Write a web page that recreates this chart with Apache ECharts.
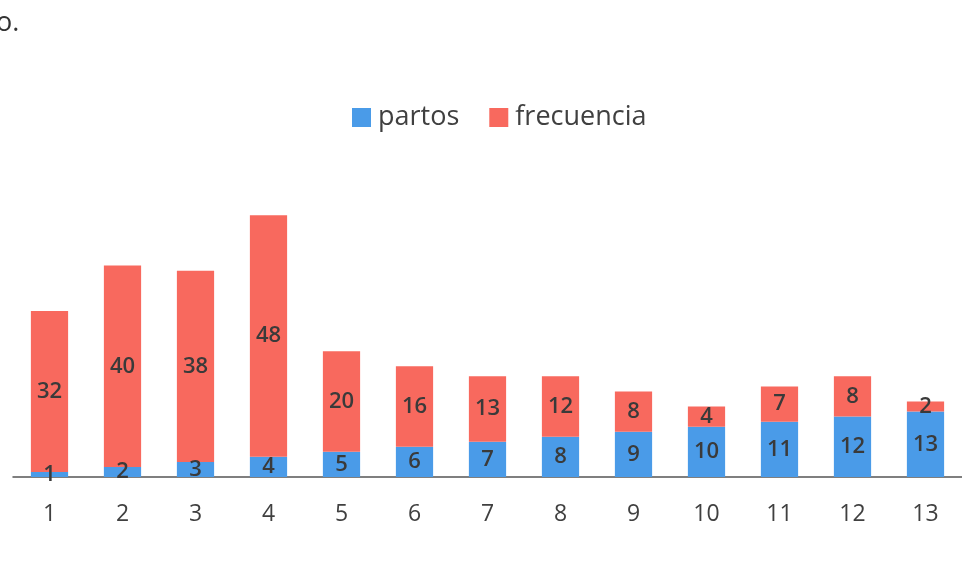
<!DOCTYPE html>
<html>
<head>
<meta charset="utf-8">
<script src="https://cdn.jsdelivr.net/npm/echarts@6/dist/echarts.min.js"></script>
<style>
html,body{margin:0;padding:0;background:#fff;}
#c{width:962px;height:579px;}
</style>
</head>
<body>
<div id="c"></div>
<script>
var categories = ['1','2','3','4','5','6','7','8','9','10','11','12','13'];
var partos = [1,2,3,4,5,6,7,8,9,10,11,12,13];
var frecuencia = [32,40,38,48,20,16,13,12,8,4,7,8,2];

var chart = echarts.init(document.getElementById('c'));
var labelStyle = {show:true, position:'inside', color:'#3a3a3a', fontSize:22, fontWeight:600, fontFamily:'Open Sans'};
chart.setOption({
  animation:false,
  backgroundColor:'#ffffff',
  graphic:[{type:'text', left:-4, top:10, style:{text:'o.', fontSize:27, fontFamily:'Open Sans', fill:'#333'}}],
  legend:{
    top:99, left:347, itemWidth:19, itemHeight:19, itemGap:30,
    icon:'rect',
    textStyle:{fontSize:27, fontFamily:'Open Sans', color:'#404040', padding:[0,0,0,2]},
    data:['partos','frecuencia']
  },
  grid:{left:13, right:-15, top:175, bottom:102},
  xAxis:{
    type:'category', data:categories,
    axisLine:{lineStyle:{color:'#555', width:1.5}},
    axisTick:{show:false},
    axisLabel:{fontSize:23, fontFamily:'Open Sans', color:'#404040', margin:26}
  },
  yAxis:{type:'value', min:0, max:60, show:false, splitLine:{show:false}},
  series:[
    {name:'partos', type:'bar', stack:'t', data:partos, barWidth:'51%',
     itemStyle:{color:'#4a9be8'}, label:labelStyle},
    {name:'frecuencia', type:'bar', stack:'t', data:frecuencia, barWidth:'51%',
     itemStyle:{color:'#f8695e'}, label:labelStyle}
  ]
});
</script>
</body>
</html>
